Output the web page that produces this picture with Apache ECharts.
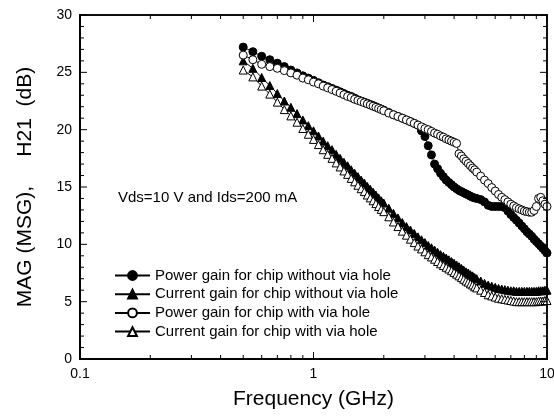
<!DOCTYPE html>
<html>
<head>
<meta charset="utf-8">
<script src="https://cdn.jsdelivr.net/npm/echarts@6/dist/echarts.min.js"></script>
<style>
  html, body { margin: 0; padding: 0; background: #fff; }
  #chart { width: 554px; height: 416px; }
</style>
</head>
<body>
<div id="chart"></div>
<script>
// frequency sweep, GHz
var freqs = [
  0.50, 0.55, 0.60, 0.65, 0.70, 0.75, 0.80, 0.85, 0.90, 0.95,
  1.00, 1.05, 1.10, 1.15, 1.20, 1.25, 1.30, 1.35, 1.40, 1.45,
  1.50, 1.55, 1.60, 1.65, 1.70, 1.75, 1.80, 1.85, 1.90, 1.95,
  2.0, 2.1, 2.2, 2.3, 2.4, 2.5, 2.6, 2.7, 2.8, 2.9,
  3.0, 3.1, 3.2, 3.3, 3.4, 3.5, 3.6, 3.7, 3.8, 3.9,
  4.0, 4.1, 4.2, 4.3, 4.4, 4.5, 4.6, 4.7, 4.8, 4.9,
  5.0, 5.2, 5.4, 5.6, 5.8, 6.0, 6.2, 6.4, 6.6, 6.8,
  7.0, 7.2, 7.4, 7.6, 7.8, 8.0, 8.2, 8.4, 8.6, 8.8,
  9.0, 9.2, 9.4, 9.6, 9.8, 10.0
];

// Power gain (MAG/MSG), chip without via hole, dB
var powerNoVia = [
  27.2, 26.8, 26.4, 26.1, 25.8, 25.5, 25.2, 24.95, 24.7, 24.5,
  24.3, 24.1, 23.9, 23.75, 23.6, 23.45, 23.3, 23.15, 23.0, 22.9,
  22.75, 22.6, 22.5, 22.4, 22.3, 22.2, 22.1, 22.0, 21.9, 21.8,
  21.7, 21.5, 21.3, 21.15, 21.0, 20.85, 20.7, 20.55, 20.4, 19.9,
  19.4, 18.6, 17.8, 17.0, 16.6, 16.2, 15.9, 15.6, 15.4, 15.2,
  15.0, 14.85, 14.7, 14.6, 14.5, 14.4, 14.3, 14.2, 14.1, 14.05,
  14.0, 13.9, 13.7, 13.4, 13.3, 13.3, 13.3, 13.3, 13.2, 12.9,
  12.6, 12.35, 12.1, 11.85, 11.6, 11.35, 11.1, 10.9, 10.7, 10.45,
  10.25, 10.05, 9.85, 9.65, 9.45, 9.25
];

// Current gain (H21), chip without via hole, dB
var currentNoVia = [
  26.0, 25.35, 24.55, 23.85, 23.15, 22.5, 21.95, 21.4, 20.85, 20.35,
  19.9, 19.45, 19.0, 18.6, 18.25, 17.85, 17.5, 17.15, 16.85, 16.5,
  16.2, 15.9, 15.6, 15.35, 15.05, 14.8, 14.55, 14.3, 14.05, 13.8,
  13.6, 13.15, 12.7, 12.3, 11.9, 11.55, 11.25, 10.95, 10.65, 10.4,
  10.15, 9.9, 9.7, 9.5, 9.3, 9.1, 8.95, 8.8, 8.65, 8.5,
  8.35, 8.2, 8.05, 7.9, 7.75, 7.6, 7.5, 7.35, 7.25, 7.1,
  7.0, 6.8, 6.6, 6.45, 6.35, 6.25, 6.15, 6.1, 6.05, 6.0,
  5.95, 5.95, 5.9, 5.9, 5.9, 5.9, 5.9, 5.9, 5.9, 5.9,
  5.9, 5.95, 5.95, 5.95, 6.0, 6.0
];

// Power gain (MAG/MSG), chip with via hole, dB
var powerVia = [
  26.5, 26.1, 25.7, 25.5, 25.35, 25.15, 24.95, 24.75, 24.5, 24.35,
  24.15, 24.0, 23.8, 23.65, 23.5, 23.35, 23.2, 23.05, 22.9, 22.8,
  22.65, 22.55, 22.45, 22.35, 22.25, 22.15, 22.05, 21.95, 21.85, 21.75,
  21.65, 21.45, 21.3, 21.15, 21.0, 20.85, 20.7, 20.55, 20.4, 20.25,
  20.1, 20.0, 19.85, 19.7, 19.6, 19.45, 19.35, 19.2, 19.1, 19.0,
  18.9, 18.8, 17.9, 17.7, 17.45, 17.25, 17.05, 16.85, 16.65, 16.5,
  16.3, 15.95, 15.6, 15.3, 14.95, 14.65, 14.35, 14.1, 13.9, 13.7,
  13.5, 13.35, 13.2, 13.1, 13.0, 12.9, 12.85, 12.8, 12.8, 12.95,
  13.3, 14.0, 14.1, 13.8, 13.5, 13.3
];

// Current gain (H21), chip with via hole, dB
var currentVia = [
  25.2, 24.6, 23.8, 23.1, 22.4, 21.75, 21.2, 20.65, 20.1, 19.6,
  19.15, 18.7, 18.25, 17.85, 17.5, 17.1, 16.75, 16.4, 16.1, 15.75,
  15.45, 15.15, 14.85, 14.6, 14.3, 14.05, 13.8, 13.55, 13.3, 13.05,
  12.85, 12.4, 11.95, 11.55, 11.15, 10.8, 10.45, 10.15, 9.85, 9.6,
  9.35, 9.1, 8.9, 8.7, 8.5, 8.3, 8.15, 8.0, 7.85, 7.7,
  7.55, 7.4, 7.25, 7.1, 6.95, 6.8, 6.7, 6.55, 6.45, 6.3,
  6.2, 6.0, 5.8, 5.6, 5.5, 5.4, 5.3, 5.25, 5.2, 5.15,
  5.1, 5.05, 5.0, 5.0, 5.0, 5.0, 5.0, 5.0, 5.0, 5.0,
  5.0, 5.05, 5.05, 5.05, 5.1, 5.1
];

var seriesNames = [
  "Power gain for chip without via hole",
  "Current gain for chip without via hole",
  "Power gain for chip with via hole",
  "Current gain for chip with via hole"
];

// axis extents and tick positions
var xMin = 0.1, xMax = 10;
var yMin = 0, yMax = 30;
var xMajorTicks = [0.1, 1, 10];
var xMinorTicks = [0.2, 0.3, 0.4, 0.5, 0.6, 0.7, 0.8, 0.9, 2, 3, 4, 5, 6, 7, 8, 9];
var yMajorTicks = [0, 5, 10, 15, 20, 25, 30];
var yMinorTicks = [1, 2, 3, 4, 6, 7, 8, 9, 11, 12, 13, 14, 16, 17, 18, 19, 21, 22, 23, 24, 26, 27, 28, 29];

var FONT = "Liberation Sans, Arial, sans-serif";
var MAJOR = 7, MINOR = 4;

function pairs(ys) {
  var out = [];
  for (var i = 0; i < freqs.length; i++) {
    out.push([freqs[i], ys[i]]);
  }
  return out;
}

// tick marks on all four sides: [x, y, direction, length]
// direction: 0 up, 1 down, 2 right, 3 left
function tickData() {
  var out = [];
  xMajorTicks.forEach(function (f) { out.push([f, yMin, 0, MAJOR], [f, yMax, 1, MAJOR]); });
  xMinorTicks.forEach(function (f) { out.push([f, yMin, 0, MINOR], [f, yMax, 1, MINOR]); });
  yMajorTicks.forEach(function (v) { out.push([xMin, v, 2, MAJOR], [xMax, v, 3, MAJOR]); });
  yMinorTicks.forEach(function (v) { out.push([xMin, v, 2, MINOR], [xMax, v, 3, MINOR]); });
  return out;
}

// ticks drawn as thin filled bars
function renderTick(params, api) {
  var p = api.coord([api.value(0), api.value(1)]);
  var dir = api.value(2), len = api.value(3);
  var shape;
  if (dir === 0) shape = { x: p[0] - 0.5, y: p[1] - len, width: 1, height: len };
  else if (dir === 1) shape = { x: p[0] - 0.5, y: p[1], width: 1, height: len };
  else if (dir === 2) shape = { x: p[0], y: p[1] - 0.5, width: len, height: 1 };
  else shape = { x: p[0] - len, y: p[1] - 0.5, width: len, height: 1 };
  return { type: "rect", shape: shape, style: { fill: "#000" } };
}

// plot frame drawn as four filled bars
function renderFrame(params, api) {
  var a = api.coord([api.value(0), api.value(1)]);
  var b = api.coord([api.value(2), api.value(3)]);
  var x0 = Math.min(a[0], b[0]), x1 = Math.max(a[0], b[0]);
  var y0 = Math.min(a[1], b[1]), y1 = Math.max(a[1], b[1]);
  var w = 1.5;
  return {
    type: "group",
    children: [
      { type: "rect", shape: { x: x0 - w / 2, y: y0 - w / 2, width: x1 - x0 + w, height: w }, style: { fill: "#000" } },
      { type: "rect", shape: { x: x0 - w / 2, y: y1 - w / 2, width: x1 - x0 + w, height: w }, style: { fill: "#000" } },
      { type: "rect", shape: { x: x0 - w / 2, y: y0 - w / 2, width: w, height: y1 - y0 + w }, style: { fill: "#000" } },
      { type: "rect", shape: { x: x1 - w / 2, y: y0 - w / 2, width: w, height: y1 - y0 + w }, style: { fill: "#000" } }
    ]
  };
}

function makeSeries(name, values, symbol, filled, size) {
  return {
    name: name,
    type: "line",
    xAxisIndex: 0,
    yAxisIndex: 0,
    data: pairs(values),
    symbol: symbol,
    symbolSize: size,
    showAllSymbol: true,
    lineStyle: { color: "#000", width: 1 },
    itemStyle: filled
      ? { color: "#000", borderColor: "#000", borderWidth: 1 }
      : { color: "#fff", borderColor: "#000", borderWidth: 1 },
    emphasis: { disabled: true },
    z: 3
  };
}

var chart = echarts.init(document.getElementById("chart"));

chart.setOption({
  animation: false,
  backgroundColor: "#fff",
  grid: {
    left: 80, right: 7, top: 15, bottom: 57,
    containLabel: false,
    outerBoundsMode: "none",
    show: true, borderColor: "#000", borderWidth: 1.5, backgroundColor: "transparent"
  },
  xAxis: {
    type: "log",
    min: xMin,
    max: xMax,
    position: "bottom",
    axisLine: { show: true, onZero: false, lineStyle: { color: "#000", width: 1.5 } },
    axisTick: { show: false },
    axisLabel: { color: "#000", fontSize: 14, fontFamily: FONT, margin: 8 },
    splitLine: { show: false },
    name: "Frequency (GHz)",
    nameLocation: "middle",
    nameGap: 30,
    nameTextStyle: { color: "#000", fontSize: 21, fontFamily: FONT }
  },
  yAxis: {
    type: "value",
    min: yMin,
    max: yMax,
    interval: 5,
    position: "left",
    axisLine: { show: true, onZero: false, lineStyle: { color: "#000", width: 1.5 } },
    axisTick: { show: false },
    axisLabel: { color: "#000", fontSize: 14, fontFamily: FONT, margin: 8 },
    splitLine: { show: false },
    name: "MAG (MSG),     H21  (dB)",
    nameLocation: "middle",
    nameGap: 44,
    nameTextStyle: { color: "#000", fontSize: 21, fontFamily: FONT }
  },
  legend: {
    orient: "vertical",
    left: 114,
    top: 268,
    padding: 0,
    itemGap: 3.7,
    itemWidth: 35,
    itemHeight: 11,
    textStyle: { color: "#000", fontSize: 15, fontFamily: FONT, lineHeight: 15 },
    data: seriesNames
  },
  graphic: [{
    type: "text",
    left: 118,
    top: 190,
    style: { text: "Vds=10 V and Ids=200 mA", fill: "#000", fontSize: 15, fontFamily: FONT }
  }],
  series: [
    makeSeries(seriesNames[0], powerNoVia, "circle", true, 8),
    makeSeries(seriesNames[1], currentNoVia, "triangle", true, 8),
    makeSeries(seriesNames[2], powerVia, "circle", false, 8),
    makeSeries(seriesNames[3], currentVia, "triangle", false, 8),
    {
      name: "frame",
      type: "custom",
      xAxisIndex: 0,
      yAxisIndex: 0,
      data: [[xMin, yMin, xMax, yMax]],
      encode: { x: [0, 2], y: [1, 3] },
      renderItem: renderFrame,
      silent: true,
      clip: false,
      z: 6
    },
    {
      name: "ticks",
      type: "custom",
      xAxisIndex: 0,
      yAxisIndex: 0,
      data: tickData(),
      encode: { x: 0, y: 1 },
      renderItem: renderTick,
      silent: true,
      clip: false,
      z: 6
    }
  ]
});
</script>
</body>
</html>
